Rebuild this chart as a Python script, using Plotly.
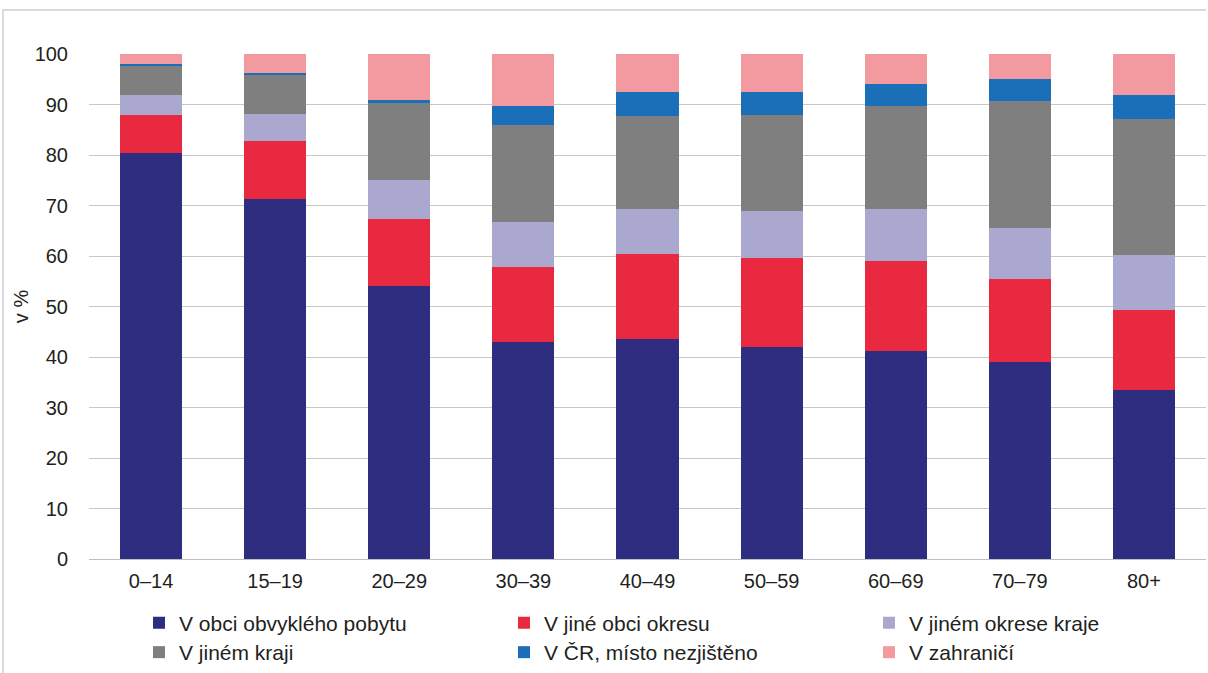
import plotly.graph_objects as go

categories = ["0–14", "15–19", "20–29", "30–39", "40–49", "50–59", "60–69", "70–79", "80+"]

obvykly = [80.4, 71.3, 54.1, 43.0, 43.6, 42.0, 41.2, 39.0, 33.5]
jina_obec = [7.5, 11.4, 13.2, 14.8, 16.8, 17.6, 17.8, 16.4, 15.8]
jiny_okres = [4.0, 5.4, 7.7, 8.9, 8.9, 9.3, 10.3, 10.1, 10.9]
jiny_kraj = [5.9, 7.9, 15.2, 19.3, 18.4, 19.0, 20.4, 25.2, 26.9]
cr_nezjisteno = [0.3, 0.2, 0.6, 3.7, 4.8, 4.6, 4.4, 4.3, 4.8]
zahranici = [1.9, 3.8, 9.2, 10.3, 7.5, 7.5, 5.9, 5.0, 8.1]

series_names = [
    "V obci obvyklého pobytu",
    "V jiné obci okresu",
    "V jiném okrese kraje",
    "V jiném kraji",
    "V ČR, místo nezjištěno",
    "V zahraničí",
]
series_values = [obvykly, jina_obec, jiny_okres, jiny_kraj, cr_nezjisteno, zahranici]
colors = ["#2e2d7f", "#e8293f", "#aba8cf", "#7f7f7f", "#1a6fb8", "#f29aa0"]
legend_ids = ["legend", "legend", "legend", "legend2", "legend2", "legend2"]
legend_widths = [320, 320, 230, 320, 320, 230]

font_family = "Liberation Sans, Arial, sans-serif"

W, H = 1206, 673
L, R, T, B = 89, 0, 54, 114
plot_w = W - L - R
plot_h = H - T - B

fig = go.Figure()
for name, vals, col, lg, lw in zip(series_names, series_values, colors, legend_ids, legend_widths):
    fig.add_trace(go.Bar(
        x=categories, y=vals, name=name, legend=lg, legendwidth=lw,
        marker=dict(color=col, line=dict(width=0)),
    ))

legend_common = dict(
    orientation="h", xanchor="left", x=(139 - L) / plot_w,
    font=dict(size=21, color="#231f20"),
    itemwidth=30, traceorder="normal", bgcolor="rgba(0,0,0,0)",
)

fig.update_layout(
    width=W, height=H,
    barmode="stack", bargap=0.5,
    paper_bgcolor="white", plot_bgcolor="white",
    margin=dict(l=L, r=R, t=T, b=B),
    font=dict(family=font_family, size=20, color="#231f20"),
    showlegend=True,
    legend=dict(y=(H - B - 623) / plot_h, yanchor="middle", **legend_common),
    legend2=dict(y=(H - B - 673) / plot_h, yanchor="bottom", **legend_common),
    xaxis=dict(
        showgrid=False, showline=True, linecolor="#bfbfbf", linewidth=1,
        ticks="", ticklabelstandoff=4, tickfont=dict(size=20), automargin=False,
    ),
    yaxis=dict(
        range=[0, 100], dtick=10, tick0=0,
        showgrid=True, gridcolor="#c8c8c8", gridwidth=1,
        zeroline=False, showline=False, ticks="", ticklabelstandoff=20,
        tickfont=dict(size=20), automargin=False,
        title=dict(text="v %", font=dict(size=20), standoff=0),
    ),
)

# outer frame
fig.add_shape(type="rect", xref="paper", yref="paper",
              x0=(3 - L) / plot_w, x1=1.05, y0=-0.3, y1=(H - B - 10) / plot_h,
              line=dict(color="#d0d0d0", width=1.5), fillcolor="rgba(0,0,0,0)", layer="below")

fig.write_html("out.html", config={"displayModeBar": False},
               post_script="document.body.style.margin='0';")
